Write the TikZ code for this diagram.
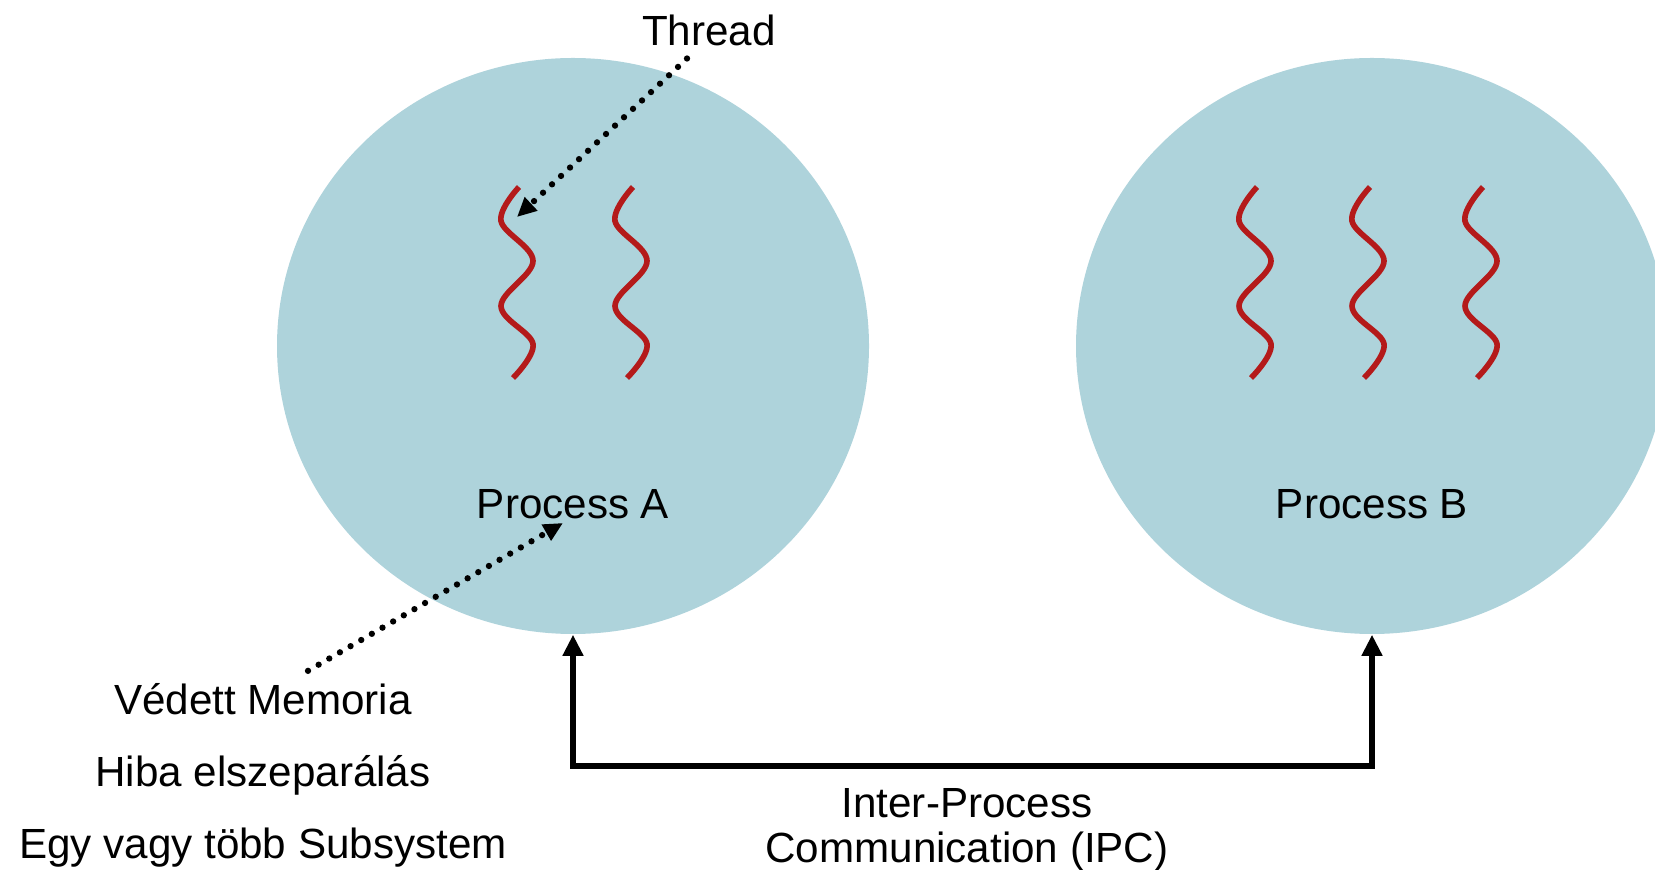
\documentclass[tikz,border=0pt]{standalone}
\usepackage{fontspec}
\setmainfont{Liberation Sans}
\usetikzlibrary{arrows.meta,shapes.geometric,calc}
\definecolor{procblue}{RGB}{174,211,219}
\definecolor{threadred}{RGB}{180,26,26}
\tikzset{
  process/.style={ellipse, fill=procblue, minimum width=5.92cm, minimum height=5.76cm, inner sep=0pt},
  txt/.style={anchor=base, inner sep=0pt},
  thread/.style={draw=threadred, line width=1.6pt},
  pointer/.style={line width=1.8pt, dash pattern=on 0pt off 3.5pt, line cap=round, -{Triangle[length=5.5pt,width=5pt]}},
  ipcline/.style={line width=1.7pt, {Triangle[length=6pt,width=5.6pt]}-{Triangle[length=6pt,width=5.6pt]}}
}
\begin{document}
\begin{tikzpicture}[font=\fontsize{12}{12.8}\selectfont]
\useasboundingbox (0,0) rectangle (16.55,8.69);
\node [process] (A) at (5.73,5.23) {};
\node [process] (B) at (13.72,5.23) {};
\foreach \x in {5.17,6.31,12.55,13.68,14.81}
  \draw [thread] plot [smooth, tension=0.6] coordinates {(\x+0.02,6.82) (\x-0.16,6.48) (\x+0.16,6.08) (\x-0.16,5.63) (\x+0.16,5.25) (\x-0.04,4.91)};
\node [txt] (procA) at (5.73,3.50) {Process A};
\node [txt] (procB) at (13.72,3.50) {Process B};
\node [txt] (thr) at (7.09,8.236) {Thread};
\node [txt] (mem1) at (2.63,1.544) {Védett Memoria};
\node [txt] (mem2) at (2.63,0.826) {Hiba elszeparálás};
\node [txt] (mem3) at (2.63,0.11) {Egy vagy több Subsystem};
\node [txt, align=center] (ipc) at (9.67,0.07) {Inter-Process\\Communication (IPC)};
\coordinate (thrtip) at (5.17,6.52);
\coordinate (memtip) at (5.63,3.46);
\coordinate (ipcbase) at (0,1.033);
\draw [pointer] ([xshift=-2.2mm,yshift=-1.2mm]thr.south) -- (thrtip);
\draw [pointer] ([xshift=4.5mm,yshift=1.2mm]mem1.north) -- (memtip);
\draw [ipcline] (A.south) -- (A.south |- ipcbase) -| (B.south);
\end{tikzpicture}
\end{document}
